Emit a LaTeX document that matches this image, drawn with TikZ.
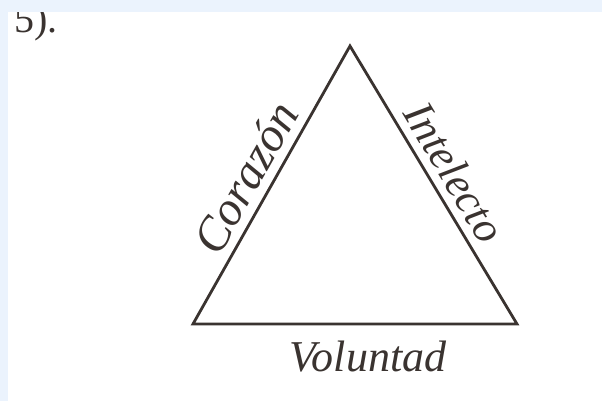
\documentclass[tikz,border=0pt]{standalone}
\usepackage{fontspec}
\setmainfont{Liberation Serif}
\usepackage{xcolor}
\usepackage{tikz}
\usetikzlibrary{calc}
\definecolor{ink}{HTML}{3A3330}
\definecolor{margin}{HTML}{EBF3FD}
\tikzset{
  side/.style={draw=ink, line width=2.8pt, line join=miter},
  word/.style={font=\fontsize{44}{46}\selectfont\itshape, text=ink, inner sep=3pt},
  itemno/.style={font=\fontsize{40}{44}\selectfont, text=ink, anchor=base west, inner sep=0pt}
}

\begin{document}
\begin{tikzpicture}[x=1pt,y=-1pt]
\path[use as bounding box] (0,0) rectangle (602,401);
\fill[white] (0,0) rectangle (602,401);

\node[itemno] (num) at (14,33) {5).};

\coordinate (apex) at (350,46);
\coordinate (left) at (193,324);
\coordinate (right) at (517,324);

\draw[side] (left) -- node[word, font=\fontsize{48}{50}\selectfont\itshape, sloped, above=5pt, pos=0.48] (heart) {Corazón}
  (apex) -- node[word, sloped, above=5pt, pos=0.5] (mind) {Intelecto}
  (right) -- node[word, below=13pt, pos=0.46] (will) {Voluntad} cycle;

% scan margins
\fill[margin] (0,0) rectangle (602,12);
\fill[margin] (0,0) rectangle (8,401);
\end{tikzpicture}
\end{document}
